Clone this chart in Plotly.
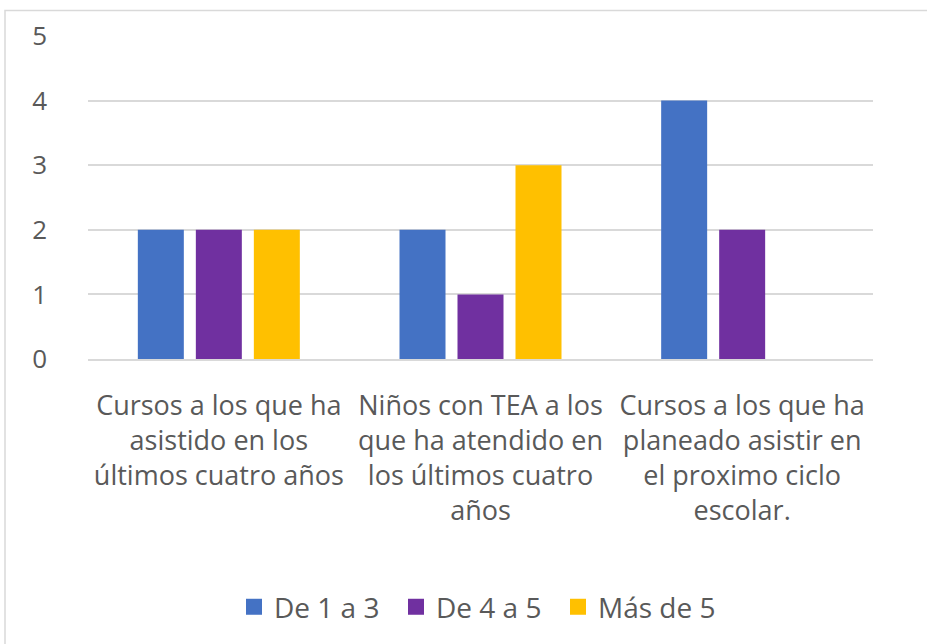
import plotly.graph_objects as go

categories = [
    "Cursos a los que ha<br>asistido en los<br>últimos cuatro años",
    "Niños con TEA a los<br>que ha atendido en<br>los últimos cuatro<br>años",
    "Cursos a los que ha<br>planeado asistir en<br>el proximo ciclo<br>escolar.",
]
series_names = ["De 1 a 3", "De 4 a 5", "Más de 5"]
de_1_a_3 = [2, 2, 4]
de_4_a_5 = [2, 1, 2]
mas_de_5 = [2, 3, 0]
colors = ["#4472C4", "#7030A0", "#FFC000"]

fig = go.Figure()
for name, vals, col in zip(series_names, [de_1_a_3, de_4_a_5, mas_de_5], colors):
    fig.add_trace(go.Bar(name=name, x=categories, y=vals, marker_color=col,
                         marker_line_width=0, showlegend=False))
# legend proxies with larger square swatches
for name, col in zip(series_names, colors):
    fig.add_trace(go.Scatter(name=name, x=[None], y=[None], mode="markers",
                             marker=dict(symbol="square", size=17, color=col), showlegend=True))

font_family = "Open Sans, Liberation Sans, sans-serif"
fig.update_layout(
    width=927, height=644,
    margin=dict(l=88, r=54, t=36, b=285),
    paper_bgcolor="white", plot_bgcolor="white",
    barmode="group", bargap=0.335, bargroupgap=0.207,
    font=dict(family=font_family, size=27, color="#595959"),
    showlegend=True,
    legend=dict(orientation="h", x=(234 - 88) / 785, xanchor="left", y=-0.768, yanchor="middle",
                font=dict(size=28, color="#595959"), entrywidth=117, entrywidthmode="pixels",
                traceorder="normal"),
    xaxis=dict(showgrid=False, showline=True, linecolor="#d9d9d9", linewidth=1.5,
               ticks="", ticklabelstandoff=22, tickfont=dict(size=27, color="#595959")),
    yaxis=dict(range=[0, 5], dtick=1, showgrid=True, gridcolor="#d9d9d9", gridwidth=1.5,
               zeroline=False, ticks="", ticklabelstandoff=40,
               tickfont=dict(size=26, color="#595959")),
    shapes=[dict(type="rect", xref="paper", yref="paper",
                 x0=(5 - 88) / 785, x1=(940 - 88) / 785,
                 y0=(359 - 660) / 323, y1=(359 - 10.5) / 323,
                 line=dict(color="#d9d9d9", width=1.5), fillcolor="rgba(0,0,0,0)", layer="below")],
)
fig.write_html("out.html", post_script="document.body.style.margin='0';",
               config={"displayModeBar": False})
